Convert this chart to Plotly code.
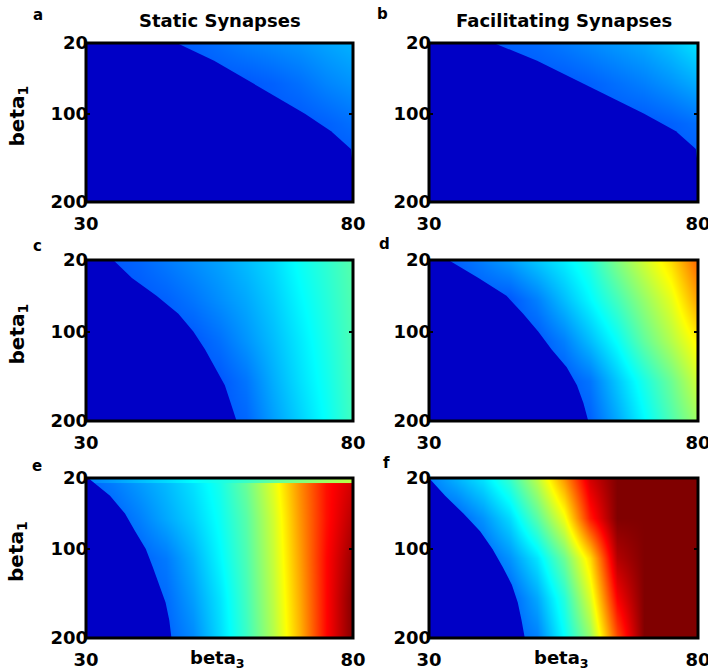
import plotly.graph_objects as go

# ---------------- data ----------------
B3 = [30, 35, 40, 45, 50, 55, 60, 65, 70, 75, 80]          # beta_3 grid (columns)
B1_GRID = [20, 65, 110, 155, 200]                          # beta_1 grid (rows)
B1_EDGE = [20, 40, 60, 80, 100, 120, 140, 160, 180, 200]   # rows for zero-region edge

X_TICKS = [30, 80]
Y_TICKS = [20, 100, 200]

TITLES = ["Static Synapses", "Facilitating Synapses"]
LETTERS = ["a", "b", "c", "d", "e", "f"]

# colour value (0..1, jet scale) of the active region
Z_A = [
    [0.21, 0.21, 0.21, 0.21, 0.22, 0.235, 0.25, 0.26, 0.27, 0.285, 0.30],
    [0.21, 0.21, 0.21, 0.21, 0.21, 0.21, 0.21, 0.22, 0.235, 0.255, 0.27],
    [0.21, 0.21, 0.21, 0.21, 0.21, 0.21, 0.21, 0.21, 0.21, 0.22, 0.235],
    [0.21, 0.21, 0.21, 0.21, 0.21, 0.21, 0.21, 0.21, 0.21, 0.21, 0.21],
    [0.21, 0.21, 0.21, 0.21, 0.21, 0.21, 0.21, 0.21, 0.21, 0.21, 0.21],
]
Z_B = [
    [0.21, 0.21, 0.21, 0.22, 0.23, 0.245, 0.26, 0.275, 0.29, 0.315, 0.35],
    [0.21, 0.21, 0.21, 0.21, 0.21, 0.21, 0.22, 0.235, 0.25, 0.27, 0.295],
    [0.21, 0.21, 0.21, 0.21, 0.21, 0.21, 0.21, 0.21, 0.21, 0.22, 0.235],
    [0.21, 0.21, 0.21, 0.21, 0.21, 0.21, 0.21, 0.21, 0.21, 0.21, 0.21],
    [0.21, 0.21, 0.21, 0.21, 0.21, 0.21, 0.21, 0.21, 0.21, 0.21, 0.21],
]
Z_C = [
    [0.21, 0.21, 0.225, 0.245, 0.265, 0.285, 0.31, 0.34, 0.385, 0.42, 0.46],
    [0.21, 0.21, 0.21, 0.22, 0.24, 0.265, 0.29, 0.325, 0.37, 0.41, 0.455],
    [0.21, 0.21, 0.21, 0.21, 0.21, 0.235, 0.27, 0.31, 0.355, 0.40, 0.45],
    [0.21, 0.21, 0.21, 0.21, 0.21, 0.21, 0.24, 0.295, 0.345, 0.39, 0.445],
    [0.21, 0.21, 0.21, 0.21, 0.21, 0.21, 0.225, 0.28, 0.33, 0.38, 0.44],
]
Z_D = [
    [0.21, 0.22, 0.25, 0.28, 0.32, 0.36, 0.41, 0.50, 0.58, 0.66, 0.78],
    [0.21, 0.21, 0.21, 0.21, 0.25, 0.31, 0.37, 0.44, 0.52, 0.60, 0.72],
    [0.21, 0.21, 0.21, 0.21, 0.21, 0.25, 0.31, 0.38, 0.47, 0.55, 0.64],
    [0.21, 0.21, 0.21, 0.21, 0.21, 0.21, 0.24, 0.32, 0.40, 0.48, 0.58],
    [0.21, 0.21, 0.21, 0.21, 0.21, 0.21, 0.22, 0.29, 0.37, 0.45, 0.53],
]
Z_E = [
    [0.22, 0.25, 0.28, 0.31, 0.35, 0.40, 0.48, 0.60, 0.74, 0.86, 0.92],
    [0.22, 0.22, 0.25, 0.29, 0.33, 0.385, 0.46, 0.58, 0.73, 0.86, 0.95],
    [0.22, 0.22, 0.22, 0.245, 0.30, 0.37, 0.45, 0.57, 0.72, 0.87, 0.98],
    [0.22, 0.22, 0.22, 0.23, 0.28, 0.35, 0.44, 0.56, 0.71, 0.87, 1.0],
    [0.22, 0.22, 0.22, 0.22, 0.26, 0.34, 0.43, 0.55, 0.70, 0.87, 1.0],
]
STRIP_E_B1 = [21.4, 24.1]          # thin top row of panel e
STRIP_E = [0.25, 0.28, 0.31, 0.34, 0.375, 0.40, 0.43, 0.47, 0.50, 0.53, 0.56]
Z_F = [
    [0.25, 0.30, 0.35, 0.43, 0.56, 0.73, 0.92, 1.0, 1.0, 1.0, 1.0],
    [0.22, 0.22, 0.27, 0.34, 0.46, 0.61, 0.85, 1.0, 1.0, 1.0, 1.0],
    [0.22, 0.22, 0.22, 0.27, 0.35, 0.48, 0.66, 0.95, 1.0, 1.0, 1.0],
    [0.22, 0.22, 0.22, 0.22, 0.29, 0.41, 0.59, 0.88, 1.0, 1.0, 1.0],
    [0.22, 0.22, 0.22, 0.22, 0.25, 0.375, 0.52, 0.80, 1.0, 1.0, 1.0],
]

# beta_3 where the zero (dark blue) region ends, for each beta_1 in B1_EDGE
BND_A = [47.0, 54.0, 59.6, 65.4, 71.0, 75.9, 79.6, 80, 80, 80]
BND_B = [42.0, 50.1, 56.8, 63.4, 70.0, 75.9, 79.6, 80, 80, 80]
BND_C = [35.1, 38.6, 43.2, 47.3, 50.1, 52.3, 54.2, 56.0, 57.1, 58.2]
BND_D = [33.6, 39.2, 44.4, 47.5, 50.3, 52.8, 55.6, 57.5, 58.7, 59.6]
BND_E = [30.4, 34.5, 37.3, 39.2, 41.2, 42.5, 43.7, 44.9, 45.6, 46.0]
BND_F = [30.0, 33.0, 36.4, 39.5, 41.8, 43.7, 45.4, 46.5, 47.2, 47.8]

# ---------------- styling ----------------
W, H = 708, 672
JET = [[0.0, "rgb(0,0,128)"], [0.125, "rgb(0,0,255)"], [0.375, "rgb(0,255,255)"],
       [0.625, "rgb(255,255,0)"], [0.875, "rgb(255,0,0)"], [1.0, "rgb(128,0,0)"]]
DARK = "rgb(0,0,198)"
FONT = "DejaVu Sans"

COLS_PX = [(86, 353), (429, 698)]
ROWS_PX = [(43, 202), (260, 421), (478, 638)]

panels = [
    (Z_A, BND_A, None), (Z_B, BND_B, None),
    (Z_C, BND_C, None), (Z_D, BND_D, None),
    (Z_E, BND_E, STRIP_E), (Z_F, BND_F, None),
]

fig = go.Figure()
layout = {}
shapes = []
annotations = []

def px2x(p):
    return p / W

def px2y(p):
    return 1 - p / H

for i, (z, bnd, strip) in enumerate(panels):
    r, c = divmod(i, 2)
    n = "" if i == 0 else str(i + 1)
    xa, ya = "x" + n, "y" + n
    fig.add_trace(go.Heatmap(x=B3, y=B1_GRID, z=z, colorscale=JET, zmin=0, zmax=1,
                             zsmooth="best", showscale=False, hoverinfo="skip",
                             xaxis=xa, yaxis=ya))
    if strip is not None:
        fig.add_trace(go.Heatmap(x=B3, y=STRIP_E_B1, z=[strip, strip], colorscale=JET,
                                 zmin=0, zmax=1, zsmooth="best", showscale=False,
                                 hoverinfo="skip", xaxis=xa, yaxis=ya))
    fig.add_trace(go.Scatter(x=[30] + bnd + [30], y=[20] + B1_EDGE + [200],
                             mode="lines", fill="toself", fillcolor=DARK,
                             line=dict(width=0, color=DARK), hoverinfo="skip",
                             showlegend=False, xaxis=xa, yaxis=ya))
    x0, x1 = COLS_PX[c]
    y0, y1 = ROWS_PX[r]
    tf = dict(family=FONT, size=18, color="black", weight="bold")
    layout["xaxis" + n] = dict(domain=[px2x(x0), px2x(x1)], range=[30, 80],
                               anchor=ya, tickvals=X_TICKS, ticks="inside", ticklen=4,
                               tickwidth=2, tickcolor="black", tickfont=tf,
                               showgrid=False, zeroline=False, showline=False,
                               ticklabelstandoff=9, automargin=False,
                               ticklabeloverflow="allow")
    layout["yaxis" + n] = dict(domain=[px2y(y1), px2y(y0)], range=[200, 20],
                               anchor=xa, tickvals=Y_TICKS, ticks="inside", ticklen=4,
                               tickwidth=2, tickcolor="black", tickfont=tf,
                               mirror="ticks", showgrid=False, zeroline=False,
                               showline=False, automargin=False,
                               ticklabelstandoff=-3, ticklabeloverflow="allow")
    shapes.append(dict(type="rect", xref=xa + " domain", yref=ya + " domain",
                       x0=0, x1=1, y0=0, y1=1, line=dict(color="black", width=3),
                       layer="above"))

# titles
for c, t in enumerate(TITLES):
    x0, x1 = COLS_PX[c]
    annotations.append(dict(text=t, x=px2x((x0 + x1) / 2), y=px2y(20), xref="paper",
                            yref="paper", showarrow=False, xanchor="center",
                            yanchor="middle",
                            font=dict(family=FONT, size=18, color="black", weight="bold")))
# panel letters
LETTER_POS = [(38, 15), (382, 14), (37, 246), (385, 244), (37, 466), (386, 463)]
for L, (lx, ly) in zip(LETTERS, LETTER_POS):
    annotations.append(dict(text=L, x=px2x(lx), y=px2y(ly), xref="paper", yref="paper",
                            showarrow=False, xanchor="center", yanchor="middle",
                            font=dict(family=FONT, size=15, color="black", weight="bold")))
# y labels
for r, (y0, y1) in enumerate(ROWS_PX):
    annotations.append(dict(text="beta<sub>1</sub>", x=px2x(17), y=px2y((y0 + y1) / 2 - 6),
                            xref="paper", yref="paper", showarrow=False, textangle=-90,
                            xanchor="center", yanchor="middle",
                            font=dict(family=FONT, size=20, color="black", weight="bold")))
# x labels
for c in range(2):
    x0, x1 = COLS_PX[c]
    annotations.append(dict(text="beta<sub>3</sub>", x=px2x((x0 + x1) / 2 - 2), y=px2y(659),
                            xref="paper", yref="paper", showarrow=False,
                            xanchor="center", yanchor="middle",
                            font=dict(family=FONT, size=18, color="black", weight="bold")))

fig.update_layout(width=W, height=H, autosize=False, margin=dict(l=0, r=0, t=0, b=0),
                  paper_bgcolor="white", plot_bgcolor="white", showlegend=False,
                  shapes=shapes, annotations=annotations, **layout)

fig.write_html("out.html", config={"displayModeBar": False},
               post_script="document.body.style.margin='0';")
